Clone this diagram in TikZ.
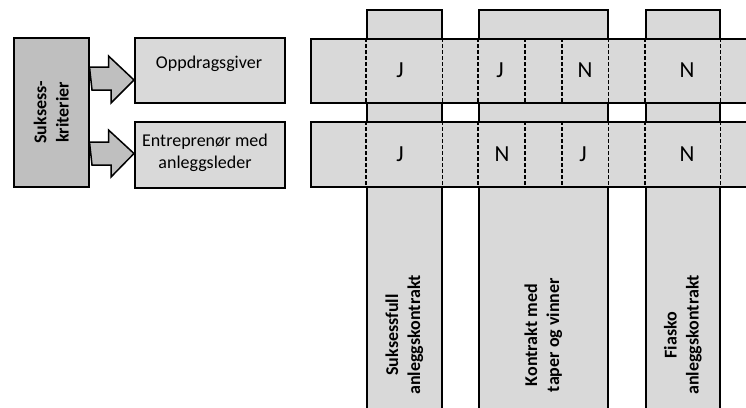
\documentclass[tikz,border=0pt]{standalone}
\usepackage{fontspec}
\setmainfont{Carlito}
\usetikzlibrary{calc}
\tikzset{>=latex}
\definecolor{lysgraa}{HTML}{D9D9D9}
\definecolor{morkgraa}{HTML}{BFBFBF}
\tikzset{
  boks/.style={draw,line width=1.5pt,fill=lysgraa,inner sep=0pt,anchor=north west},
  kriterieboks/.style={boks,fill=morkgraa},
  pil/.style={draw,line width=1.5pt,fill=morkgraa,line join=miter},
  stiplet/.style={line width=1.5pt,dash pattern=on 4pt off 2pt},
  tekst/.style={font=\fontsize{18}{22}\selectfont,align=center},
  kolonnetekst/.style={font=\fontsize{18}{22}\selectfont\bfseries,align=center,rotate=90},
  bokstav/.style={font=\fontsize{23}{27}\selectfont}
}

\begin{document}
\begin{tikzpicture}[x=1pt,y=-1pt]
  \useasboundingbox (0,0) rectangle (746,407);
  \clip (0,0) rectangle (746,407);
  % kolonner
  \node[boks,minimum width=75pt,minimum height=420pt] (col1) at (366,9) {};
  \node[boks,minimum width=129pt,minimum height=420pt] (col2) at (478,9) {};
  \node[boks,minimum width=74pt,minimum height=420pt] (col3) at (645,9) {};
  % rader
  \node[boks,minimum width=460pt,minimum height=64pt] (row1) at (310,38) {};
  \node[boks,minimum width=460pt,minimum height=65pt] (row2) at (310,121) {};
  \foreach \r in {row1,row2} {
    \foreach \c in {col1,col2,col3} {
      \draw[stiplet] (\r.north -| \c.west) -- (\r.south -| \c.west);
      \draw[stiplet] (\r.north -| \c.east) -- (\r.south -| \c.east);
    }
    \foreach \dx in {47,84}
      \draw[stiplet] ($(\r.north -| col2.west)+(\dx,0)$) -- ($(\r.south -| col2.west)+(\dx,0)$);
  }
  % venstre side
  \node[kriterieboks,minimum width=75pt,minimum height=149pt] (suksess) at (13,37) {};
  \node[boks,minimum width=150pt,minimum height=65pt] (oppdrag) at (134,37) {};
  \node[boks,minimum width=150pt,minimum height=66pt] (entre) at (134,121) {};
  \node[kolonnetekst] (suksesstekst) at (suksess.center) {Suksess-\\kriterier};
  \node[tekst] (oppdragtekst) at (209,64) {Oppdragsgiver};
  \node[tekst] (entretekst) at (205,153) {Entreprenør med\\anleggsleder};
  % piler
  \coordinate (p1) at (suksess.east |- 0,67);
  \coordinate (p2) at (suksess.east |- 0,142);
  \draw[pil] (p1) -- ++(19,0) -- ++(0,-11) -- (oppdrag.west |- 0,80) -- ++(-23,23)
    -- ++(0,-13) -- ++(-19,0) -- cycle;
  \draw[pil] (p2) -- ++(19,0) -- ++(0,-12) -- (entre.west |- 0,153.5) -- ++(-23,23.5)
    -- ++(0,-12) -- ++(-19,0) -- cycle;
  % J og N
  \foreach \x/\t [count=\i] in {400/J,500/J,585/N,687/N}
    \node[bokstav] (a\i) at (\x,70) {\t};
  \foreach \x/\t [count=\i] in {400/J,502/N,583/J,687/N}
    \node[bokstav] (b\i) at (\x,154) {\t};
  % kolonnetekster
  \node[kolonnetekst] (k1) at (col1.north |- 0,335) {Suksessfull\\anleggskontrakt};
  \node[kolonnetekst] (k2) at (col2.north |- 0,335) {Kontrakt med\\taper og vinner};
  \node[kolonnetekst] (k3) at (col3.north |- 0,335) {Fiasko\\anleggskontrakt};
\end{tikzpicture}
\end{document}
